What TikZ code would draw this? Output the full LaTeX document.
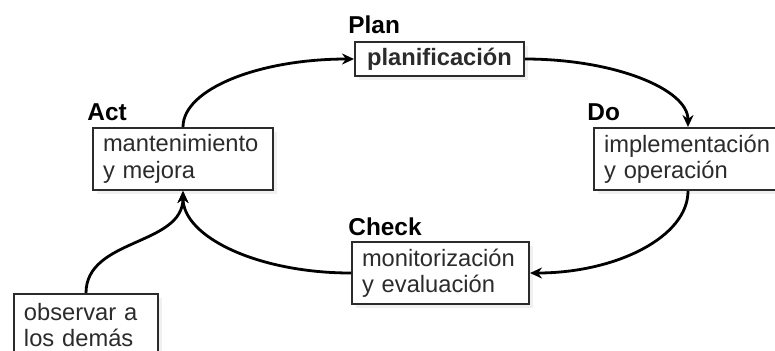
\documentclass[tikz,border=0pt]{standalone}
\usepackage{fontspec}
\setmainfont{Liberation Sans}
\usepackage{tikz}
\usetikzlibrary{arrows.meta,shadows}
\definecolor{ink}{HTML}{2B2B2B}

\begin{document}
\begin{tikzpicture}[x=0.5pt,y=-0.5pt,
    box/.style={draw=ink,line width=1pt,fill=white,text=ink,anchor=north west,align=left,
      inner xsep=5pt,inner ysep=0pt,minimum height=31pt,text width=#1,
      font=\fontsize{11.85}{13.2}\selectfont,
      drop shadow={shadow xshift=2pt,shadow yshift=-2pt,opacity=0.12}},
    tag/.style={anchor=base west,inner sep=0pt,text=black,font=\fontsize{12.2}{14}\selectfont\bfseries},
    flow/.style={line width=1.4pt,draw=black,-{Stealth[length=6pt,width=5.5pt]}}]
  \useasboundingbox (0,0) rectangle (775,350);
  % the four PDCA stages
  \node[box=74.5pt,align=center,minimum height=17pt,font=\fontsize{11.85}{13.2}\selectfont\bfseries]
    (plan) at (354,41) {planificaci\'on};
  \node[box=84pt] (do) at (593,127) {implementaci\'on\\y operaci\'on};
  \node[box=78.5pt] (check) at (351,241) {monitorizaci\'on\\y evaluaci\'on};
  \node[box=80pt] (act) at (92,127) {mantenimiento\\y mejora};
  \node[box=62pt] (obs) at (13,293) {observar a\\los dem\'as};
  % stage names
  \node[tag] (plantag) at (348,33) {Plan};
  \node[tag] (dotag) at (587,120) {Do};
  \node[tag] (checktag) at (348,235) {Check};
  \node[tag] (acttag) at (87,120) {Act};
  % cycle (quarter ellipses)
  \draw[flow] (act.north) .. controls +(0,-38) and +(-95,0) .. (plan.west);
  \draw[flow] (plan.east) .. controls +(89,0) and +(0,-38) .. (do.north);
  \draw[flow] (do.south) .. controls +(0,46) and +(86,0) .. (check.east);
  \draw[flow] (check.west) .. controls +(-93,0) and +(0,46) .. (act.south);
  \draw[flow] (obs.north) to[out=90,in=270] (act.south);
\end{tikzpicture}
\end{document}
